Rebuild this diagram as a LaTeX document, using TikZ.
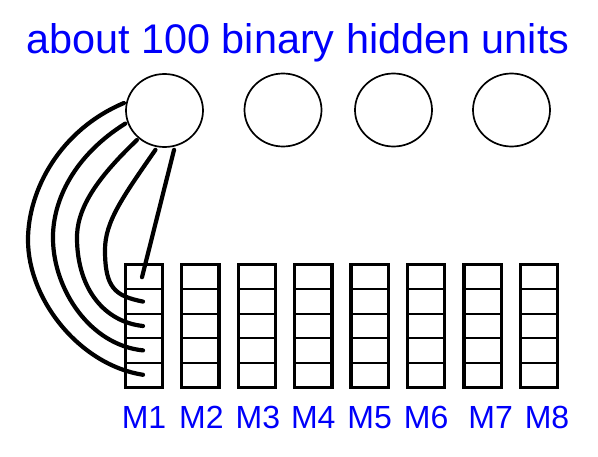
\documentclass[tikz,border=0pt]{standalone}
\usepackage{fontspec}
\setmainfont{Liberation Sans}
\usetikzlibrary{shapes.geometric}
\definecolor{labelblue}{RGB}{0,0,250}
\tikzset{
  hidden/.style={ellipse, draw=black, line width=1.7bp, minimum width=77bp, minimum height=73bp, inner sep=0pt, fill=white},
  cellbox/.style={rectangle, draw=black, line width=1.9bp, minimum width=36bp, minimum height=24.4bp, inner sep=0pt},
  colframe/.style={draw=black, line width=2.6bp},
  conn/.style={line width=4.2bp, line cap=round},
  mlabel/.style={text=labelblue, font=\fontsize{32bp}{36bp}\selectfont, anchor=base, inner sep=0pt},
  title/.style={text=labelblue, font=\fontsize{41.4bp}{46bp}\selectfont, anchor=base west, inner sep=0pt}
}
\begin{document}
\begin{tikzpicture}[x=1bp,y=-1bp]
\useasboundingbox (0,0) rectangle (598,457);
\node[title] (t) at (26,54) {about 100 binary hidden units};
\node[hidden] (h1) at (164.5,110.5) {};
\node[hidden] (h2) at (283,110) {};
\node[hidden] (h3) at (393.5,110) {};
\node[hidden] (h4) at (511.5,110) {};
\foreach \i in {1,...,8} {
  \pgfmathsetmacro{\cx}{144+56.43*(\i-1)}
  \foreach \j in {1,...,5} {
    \pgfmathsetmacro{\cy}{277.2+24.4*(\j-1)}
    \node[cellbox] (c\i-\j) at (\cx,\cy) {};
  }
  \draw[colframe] (c\i-1.north west) rectangle (c\i-5.south east);
}
\foreach \i/\dx in {1/0,2/1,3/1,4/0,5/0,6/0,7/8,8/8} {
  \pgfmathsetmacro{\lx}{144+56.43*(\i-1)+\dx}
  \node[mlabel] (m\i) at (\lx,428) {M\i};
}
% connectors
\draw[conn] (h1.284) ++(0.5,3) -- ([xshift=-2bp]c1-1.center);
\draw[conn] (h1.256) ++(0,3) .. controls (122,198) and (105,222) .. (105,250)
  .. controls (105,288) and (115,296) .. ([xshift=-1bp]c1-2.center);
\draw[conn] (h1.226) ++(-1,2) .. controls (95,180) and (76,210) .. (77,240)
  .. controls (78,290) and (105,322) .. ([xshift=-1bp]c1-3.center);
\draw[conn] (h1.198) ++(-2,1) .. controls (75,155) and (52,200) .. (53,240)
  .. controls (54,290) and (90,345) .. ([xshift=-1bp]c1-4.center);
\draw[conn] (h1.169) ++(-2,0) .. controls (60,130) and (28,190) .. (28,240)
  .. controls (28,300) and (80,365) .. ([xshift=-1bp]c1-5.center);
\end{tikzpicture}
\end{document}
